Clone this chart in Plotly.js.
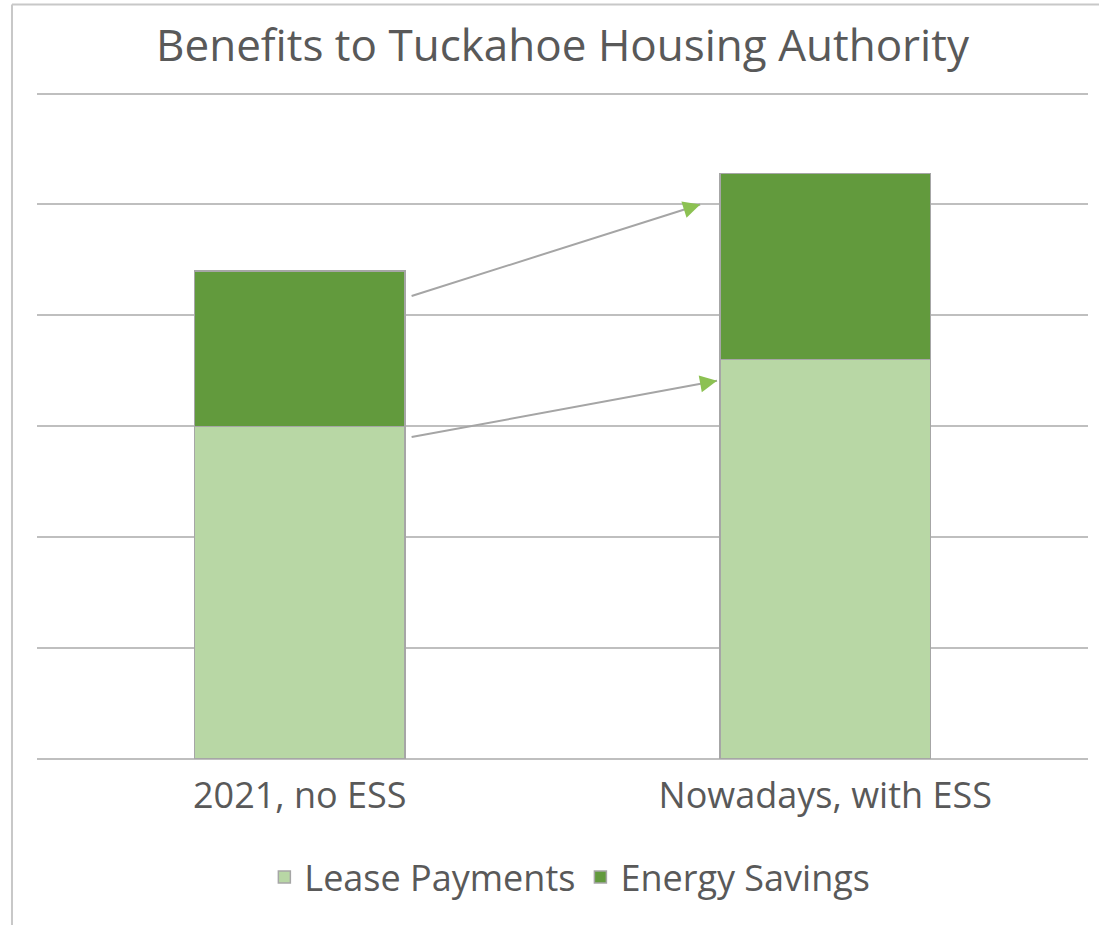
<!DOCTYPE html>
<html>
<head>
<meta charset="utf-8">
<script src="https://cdn.plot.ly/plotly-3.0.1.min.js"></script>
<style>html,body{margin:0;padding:0;background:#fff;}#chart{width:1099px;height:925px;}</style>
</head>
<body>
<div id="chart"></div>
<script>
// Data
const categories = ["2021, no ESS", "Nowadays, with ESS"];
const leasePayments = [3.0, 3.6];
const energySavings = [1.4, 1.68];
const seriesNames = ["Lease Payments", "Energy Savings"];
// Arrow endpoints (data units)
const arrowFromX = [0.21, 0.21];
const arrowFromY = [4.17, 2.90];
const arrowToX = [0.762, 0.794];
const arrowToY = [5.0, 3.41];

const FONT = "Open Sans, Noto Sans, sans-serif";
const lightGreen = "#B8D7A5";
const darkGreen = "#629A3D";
const outline = "#A6A6A6";

const traces = [
  {type: "bar", name: seriesNames[0], x: categories, y: leasePayments,
   marker: {color: lightGreen, line: {color: outline, width: 1.5}}, hoverinfo: "skip"},
  {type: "bar", name: seriesNames[1], x: categories, y: energySavings,
   marker: {color: darkGreen, line: {color: outline, width: 1.5}}, hoverinfo: "skip"}
];

const annotations = [];
for (let i = 0; i < arrowFromX.length; i++) {
  annotations.push({x: arrowToX[i], y: arrowToY[i], ax: arrowFromX[i], ay: arrowFromY[i],
    xref: "x", yref: "y", axref: "x", ayref: "y", text: "", showarrow: true,
    arrowhead: 0, arrowwidth: 2, arrowcolor: "#A5A5A5"});
  const t = 0.025;
  annotations.push({x: arrowToX[i], y: arrowToY[i],
    ax: arrowToX[i] - (arrowToX[i] - arrowFromX[i]) * t,
    ay: arrowToY[i] - (arrowToY[i] - arrowFromY[i]) * t,
    xref: "x", yref: "y", axref: "x", ayref: "y", text: "", showarrow: true,
    arrowhead: 2, arrowsize: 1.7, arrowwidth: 2, arrowcolor: "#8CC152"});
}

const layout = {
  width: 1099, height: 925,
  margin: {l: 37, r: 11, t: 88, b: 166},
  paper_bgcolor: "#fff", plot_bgcolor: "#fff",
  barmode: "stack", bargap: 0.6,
  title: {text: "Benefits to Tuckahoe Housing Authority", x: 0.5, xref: "paper", xanchor: "center",
          y: 0.951, yanchor: "middle", font: {family: FONT, size: 44, color: "#595959"}},
  xaxis: {type: "category", showgrid: false, zeroline: false, showline: false, ticks: "",
          ticklabelstandoff: 12,
          tickfont: {family: FONT, size: 36, color: "#595959"}, automargin: false},
  yaxis: {range: [0, 6.05], tickvals: [0, 1, 2, 3, 4, 5, 6], showticklabels: false, showgrid: true,
          gridcolor: "#BFBFBF", gridwidth: 2, zeroline: true, zerolinecolor: "#BFBFBF",
          zerolinewidth: 2, fixedrange: true},
  showlegend: true,
  legend: {orientation: "h", x: 0.507, xanchor: "center", y: -0.176, yanchor: "middle",
           traceorder: "normal", font: {family: FONT, size: 36, color: "#595959"},
           itemwidth: 30, tracegroupgap: 0},
  annotations: annotations,
  shapes: [
    {type: "line", xref: "paper", yref: "paper", x0: -0.0238, x1: 1.02, y0: 1.1245, y1: 1.1245,
     line: {color: "#C8C8C8", width: 2}},
    {type: "line", xref: "paper", yref: "paper", x0: -0.0238, x1: -0.0238, y0: 1.1245, y1: -0.26,
     line: {color: "#C8C8C8", width: 2}}
  ]
};

Plotly.newPlot("chart", traces, layout, {displayModeBar: false, staticPlot: true});
</script>
</body>
</html>
